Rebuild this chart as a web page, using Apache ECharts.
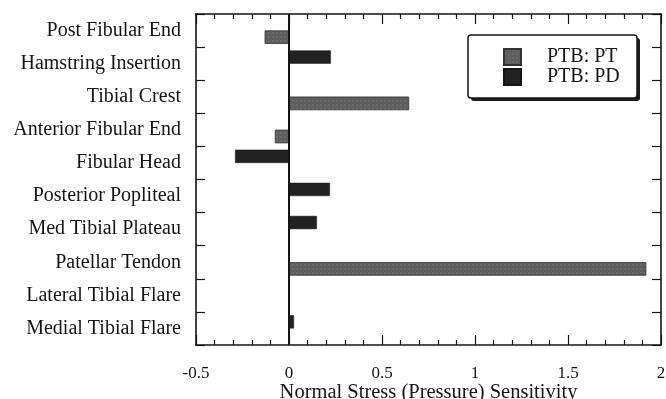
<!DOCTYPE html>
<html>
<head>
<meta charset="utf-8">
<script src="https://cdn.jsdelivr.net/npm/echarts@6/dist/echarts.min.js"></script>
<style>html,body{margin:0;padding:0;background:#fff;}#c{width:666px;height:399px;}</style>
</head>
<body>
<div id="c"></div>
<script>
const categories = ['Post Fibular End','Hamstring Insertion','Tibial Crest','Anterior Fibular End','Fibular Head','Posterior Popliteal','Med Tibial Plateau','Patellar Tendon','Lateral Tibial Flare','Medial Tibial Flare'];
const ptValues = [-0.13, 0, 0.645, -0.075, 0, 0, 0, 1.92, 0, 0];
const pdValues = [0, 0.225, 0, 0, -0.29, 0.22, 0.15, 0, 0, 0.027];
const xTicks = [-0.5, 0, 0.5, 1, 1.5, 2];

const FONT = 'Liberation Serif';
const INK = '#151515';
const chart = echarts.init(document.getElementById('c'), null, {renderer: 'canvas'});

function xAxisDef(pos, interval, tickLen) {
  return {
    type: 'value', min: xTicks[0], max: xTicks[xTicks.length - 1], interval: interval,
    position: pos,
    axisLine: {show: true, onZero: false, lineStyle: {color: INK, width: 1.6}},
    axisTick: {show: true, inside: true, length: tickLen, lineStyle: {color: INK, width: 1.2}},
    minorTick: {show: true, splitNumber: 5, length: 5, lineStyle: {color: INK, width: 1.2}},
    axisLabel: {show: false},
    splitLine: {show: false}
  };
}
const yBase = {
  type: 'category', data: categories, inverse: true,
  axisLine: {show: true, onZero: false, lineStyle: {color: INK, width: 1.6}},
  axisTick: {show: true, inside: true, length: 9, lineStyle: {color: INK, width: 1.2}},
  splitLine: {show: false}
};

const xMainBottom = xAxisDef('bottom', 0.5, 10);
xMainBottom.axisLabel = {show: true, fontFamily: FONT, fontSize: 17, color: INK, margin: 20,
  formatter: v => String(v)};
xMainBottom.name = 'Normal Stress (Pressure) Sensitivity';
xMainBottom.nameLocation = 'middle';
xMainBottom.nameGap = 37;
xMainBottom.nameMoveOverlap = false;
xMainBottom.nameTextStyle = {fontFamily: FONT, fontSize: 20.5, color: INK};

chart.setOption({
  animation: false,
  backgroundColor: '#fff',
  grid: {left: 196, right: 5, top: 14, bottom: 54, containLabel: false, outerBoundsMode: 'none'},
  graphic: [
    {type: 'rect', z: 3, zlevel: 0, shape: {x: 471, y: 38, width: 169, height: 63, r: 3}, style: {fill: '#1c1c1c'}},
    {type: 'rect', z: 4, zlevel: 0, shape: {x: 468, y: 35, width: 169, height: 63, r: 3},
      style: {fill: '#fff', stroke: INK, lineWidth: 1.5}}
  ],
  legend: {
    orient: 'vertical', left: 503, top: 47, padding: 0, z: 6,
    itemWidth: 17, itemHeight: 16, itemGap: 0,
    icon: 'rect',
    textStyle: {fontFamily: FONT, fontSize: 20, color: INK, lineHeight: 20, padding: [0, 0, 0, 21]},
    data: ['PTB: PT', 'PTB: PD']
  },
  xAxis: [
    xMainBottom,
    xAxisDef('top', 0.5, 10)
  ],
  yAxis: [
    Object.assign({}, yBase, {
      position: 'left',
      axisLabel: {show: true, fontFamily: FONT, fontSize: 20, color: INK, margin: 15}
    }),
    Object.assign({}, yBase, {position: 'right', axisLabel: {show: false}})
  ],
  series: [
    {
      name: 'PTB: PD', type: 'bar', data: pdValues, xAxisIndex: 0, yAxisIndex: 0,
      barGap: '0%', barCategoryGap: '20%',
      itemStyle: {color: '#222', borderColor: '#151515', borderWidth: 0.5},
      markLine: {
        silent: true, symbol: 'none', label: {show: false},
        lineStyle: {color: INK, width: 2, type: 'solid'},
        data: [{xAxis: 0}]
      }
    },
    {
      name: 'PTB: PT', type: 'bar', data: ptValues, xAxisIndex: 0, yAxisIndex: 0,
      barGap: '0%', barCategoryGap: '20%',
      itemStyle: {color: '#5e5e5e', borderColor: '#333', borderWidth: 0.5,
        decal: {symbol: 'rect', symbolSize: 0.5, color: 'rgba(255,255,255,0.3)',
          dashArrayX: [2, 2], dashArrayY: [2, 2], rotation: 0}}
    }
  ]
});
</script>
</body>
</html>
